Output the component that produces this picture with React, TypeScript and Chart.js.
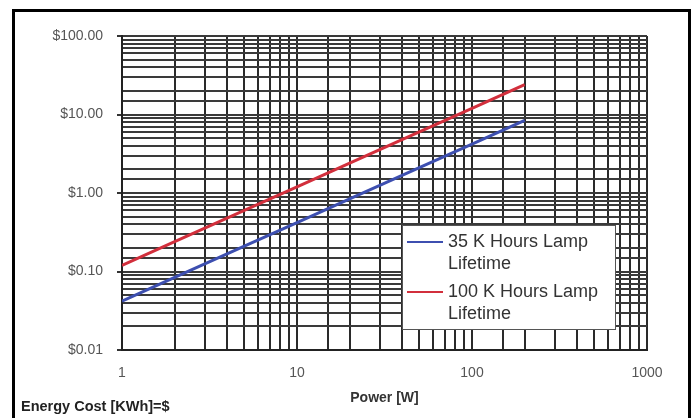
import React, { useEffect, useRef } from "react";
import { Chart, registerables } from "chart.js";
Chart.register(...registerables);

// ---- data ----
const powerW = [1, 2, 5, 10, 20, 50, 100, 200];
const cost35k = [0.042, 0.084, 0.21, 0.42, 0.84, 2.1, 4.2, 8.4];
const cost100k = [0.12, 0.24, 0.6, 1.2, 2.4, 6.0, 12, 24];
const seriesLabels = ["35 K Hours Lamp Lifetime", "100 K Hours Lamp Lifetime"];
const legendLines = [
  ["35 K Hours Lamp", "Lifetime"],
  ["100 K Hours Lamp", "Lifetime"],
];
const yTickLabels = ["$0.01", "$0.10", "$1.00", "$10.00", "$100.00"];
const xTickLabels = ["1", "10", "100", "1000"];
const xTitle = "Power [W]";
const footNote = "Energy Cost [KWh]=$";

const FONT = "'Liberation Sans', Arial, sans-serif";

const isDecade = (v: number) => {
  const l = Math.log10(v);
  return Math.abs(l - Math.round(l)) < 1e-6;
};

const boxLegend = {
  id: "boxLegend",
  afterDatasetsDraw(chart: any) {
    const { ctx, chartArea } = chart;
    const x0 = chartArea.right - 245;
    const y0 = chartArea.bottom - 125;
    const w = 213;
    const h = 104;
    ctx.save();
    ctx.fillStyle = "#ffffff";
    ctx.fillRect(x0, y0, w, h);
    ctx.strokeStyle = "#555";
    ctx.lineWidth = 1;
    ctx.strokeRect(x0 + 0.5, y0 + 0.5, w, h);
    chart.data.datasets.forEach((ds: any, i: number) => {
      const yc = y0 + 17 + i * 50;
      ctx.strokeStyle = ds.borderColor;
      ctx.lineWidth = 2;
      ctx.beginPath();
      ctx.moveTo(x0 + 5, yc);
      ctx.lineTo(x0 + 41, yc);
      ctx.stroke();
      ctx.fillStyle = "#333";
      ctx.font = `18px ${FONT}`;
      ctx.textBaseline = "middle";
      ctx.textAlign = "left";
      legendLines[i].forEach((t, j) => ctx.fillText(t, x0 + 46, yc + j * 22));
    });
    ctx.restore();
  },
};

export default function App() {
  const ref = useRef<HTMLCanvasElement>(null);
  useEffect(() => {
    if (!ref.current) return;
    const chart = new Chart(ref.current, {
      type: "line",
      data: {
        datasets: [
          {
            label: seriesLabels[0],
            data: powerW.map((x, i) => ({ x, y: cost35k[i] })),
            borderColor: "#3d4fb0",
            borderWidth: 3,
            pointRadius: 0,
            tension: 0,
          },
          {
            label: seriesLabels[1],
            data: powerW.map((x, i) => ({ x, y: cost100k[i] })),
            borderColor: "#d22f3c",
            borderWidth: 3,
            pointRadius: 0,
            tension: 0,
          },
        ],
      },
      options: {
        responsive: false,
        animation: false,
        layout: { padding: { left: 0, top: 36, right: 45, bottom: 0 } },
        plugins: { legend: { display: false }, tooltip: { enabled: false } },
        scales: {
          x: {
            type: "logarithmic",
            min: 1,
            max: 1000,
            afterFit: (s: any) => {
              s.height = 68;
            },
            border: { display: true, color: "#222", width: 2 },
            grid: { color: "#2a2a2a", lineWidth: 2, drawTicks: false },
            ticks: {
              autoSkip: false,
              maxRotation: 0,
              padding: 15,
              color: "#555",
              font: { family: FONT, size: 14 },
              callback: (v: any) =>
                isDecade(Number(v)) ? xTickLabels[Math.round(Math.log10(Number(v)))] : "",
            },
            title: {
              display: true,
              text: xTitle,
              color: "#333",
              font: { family: FONT, size: 14, weight: "bold" },
              padding: { top: 13, bottom: 11 },
            },
          },
          y: {
            type: "logarithmic",
            min: 0.01,
            max: 100,
            afterFit: (s: any) => {
              s.width = 122;
            },
            border: { display: true, color: "#222", width: 2 },
            grid: {
              color: "#3a3a3a",
              lineWidth: 2,
              tickLength: 5,
              tickColor: (c: any) => (c.tick && isDecade(c.tick.value) ? "#333" : "rgba(0,0,0,0)"),
            },
            ticks: {
              autoSkip: false,
              padding: 14,
              color: "#555",
              font: { family: FONT, size: 14 },
              callback: (v: any) =>
                isDecade(Number(v)) ? yTickLabels[Math.round(Math.log10(Number(v))) + 2] : "",
            },
          },
        },
      },
      plugins: [boxLegend],
    } as any);
    return () => chart.destroy();
  }, []);

  return (
    <div
      style={{
        position: "fixed",
        left: 0,
        top: 0,
        width: 692,
        height: 418,
        background: "#fff",
        overflow: "hidden",
      }}
    >
      <canvas ref={ref} width={692} height={418} style={{ display: "block" }} />
      <div
        style={{
          position: "absolute",
          left: 12,
          top: 9,
          width: 679,
          height: 420,
          boxSizing: "border-box",
          border: "3px solid #000",
          borderBottom: "none",
          pointerEvents: "none",
        }}
      />
      <div
        style={{
          position: "absolute",
          left: 21,
          top: 397,
          font: `bold 14.5px ${FONT}`,
          lineHeight: "18px",
          color: "#222",
          whiteSpace: "nowrap",
        }}
      >
        {footNote}
      </div>
    </div>
  );
}
